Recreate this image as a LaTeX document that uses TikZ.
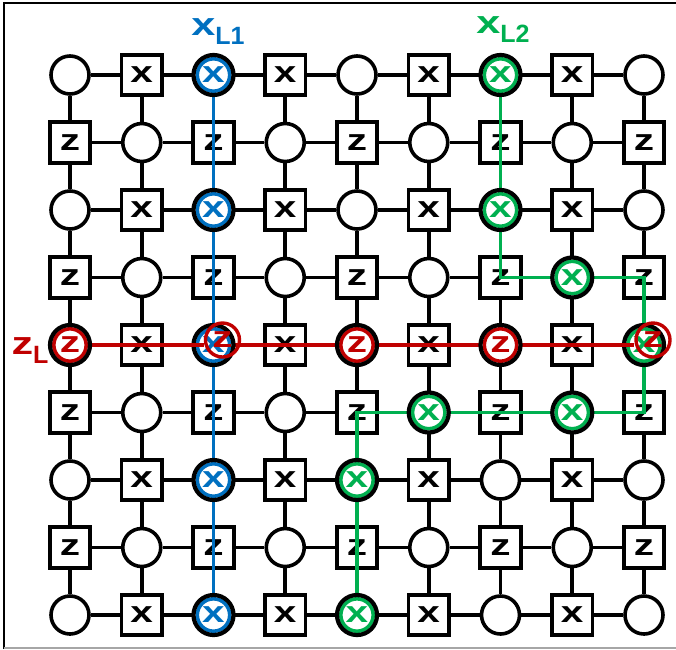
\documentclass[tikz,border=0pt]{standalone}
\usepackage{fontspec}
\setmainfont{Liberation Sans}
\definecolor{xblue}{RGB}{0,112,192}
\definecolor{xgreen}{RGB}{0,176,80}
\definecolor{zred}{RGB}{192,0,0}
\newcommand\qfont{\fontsize{30}{30}\selectfont\bfseries}
\newcommand\lfont{\fontsize{32}{32}\selectfont\bfseries}
\newcommand\wide[1]{\scalebox{1.35}[1]{#1}}
\newcommand\lsub[1]{\raisebox{-9.5pt}{\fontsize{25}{25}\selectfont #1}}
\tikzset{
  qubit/.style={circle, draw, line width=3.6pt, fill=white,
    minimum size=38pt, inner sep=0pt},
  stab/.style={rectangle, draw, line width=3.6pt, fill=white,
    minimum size=40.5pt, inner sep=0pt, font=\qfont},
  bond/.style={line width=3.8pt},
  hq/.style={circle, draw=black, line width=4.2pt, fill=white,
    minimum size=40pt, inner sep=0pt, text=#1, font=\qfont,
    path picture={\draw[#1, line width=3.6pt]
      (path picture bounding box.center) circle (16.2pt);}},
  zo/.style={circle, draw=zred, line width=3.4pt, minimum size=34pt,
    inner sep=0pt, text=zred, font=\qfont},
  logline/.style={line width=3.4pt, #1},
  lbl/.style={font=\lfont, inner sep=0pt, anchor=base}
}
\begin{document}
\begin{tikzpicture}[x=1pt,y=1pt]
  \def\dx{71.75} \def\dy{67.5}
  \def\xo{70}    \def\yo{-75}
  \useasboundingbox (0,0) rectangle (676,-649);
  % frame
  \draw[line width=2.6pt] (4,-649) -- (4,-3) -- (676,-3);
  \draw[black!35, line width=1.5pt] (4,-648) -- (676,-648);
  % data qubits and stabilisers
  \foreach \i in {0,...,8} {
    \foreach \j in {0,...,8} {
      \pgfmathtruncatemacro\s{mod(\i+\j,2)}
      \pgfmathtruncatemacro\r{mod(\j,2)}
      \ifnum\s=0
        \node[qubit] (c-\i-\j) at (\xo+\i*\dx, \yo-\j*\dy) {};
      \else
        \ifnum\r=0 \def\lab{x}\else\def\lab{z}\fi
        \node[stab] (c-\i-\j) at (\xo+\i*\dx, \yo-\j*\dy) {\wide{\lab}};
      \fi
    }
  }
  % bonds
  \foreach \i [count=\k from 1] in {0,...,7} {
    \foreach \j in {0,...,8} {
      \draw[bond] (c-\i-\j) -- (c-\k-\j);
      \draw[bond] (c-\j-\i) -- (c-\j-\k);
    }
  }
  % logical operators
  \draw[logline=xblue] (c-2-0.center) -- (c-2-8.center);
  \draw[logline=xgreen] (c-6-0.center) |- (c-8-3.center)
    |- (c-4-5.center) -- (c-4-8.center);
  \draw[logline=zred] (c-0-4.center) -- (c-8-4.center);
  % highlighted qubits
  \foreach \j in {0,2,...,8}
    \node[hq=xblue] (b-\j) at (c-2-\j) {\wide{x}};
  \foreach \i/\j in {6/0,6/2,7/3,8/4,7/5,5/5,4/6,4/8}
    \node[hq=xgreen] (g-\i-\j) at (c-\i-\j) {\wide{x}};
  \foreach \i in {0,4,6}
    \node[hq=zred] (r-\i) at (c-\i-4) {\wide{z}};
  % shared qubits
  \node[zo] (r-2) at ([shift={(9,5)}]b-4.center) {\wide{z}};
  \node[zo] (r-8) at ([shift={(9,5)}]g-8-4.center) {\wide{z}};
  \draw[logline=zred] (b-4.west) -- (r-2.west |- b-4.center);
  \draw[logline=zred] (g-8-4.west) -- (r-8.west |- g-8-4.center);
  % labels
  \node[lbl, text=xblue] (xl1) at (218,-35) {\wide{x}\lsub{L1}};
  \node[lbl, text=xgreen] (xl2) at (503,-33) {\wide{x}\lsub{L2}};
  \node[lbl, text=zred] (zl) at (30,-354) {\wide{z}\lsub{L}};
\end{tikzpicture}
\end{document}
